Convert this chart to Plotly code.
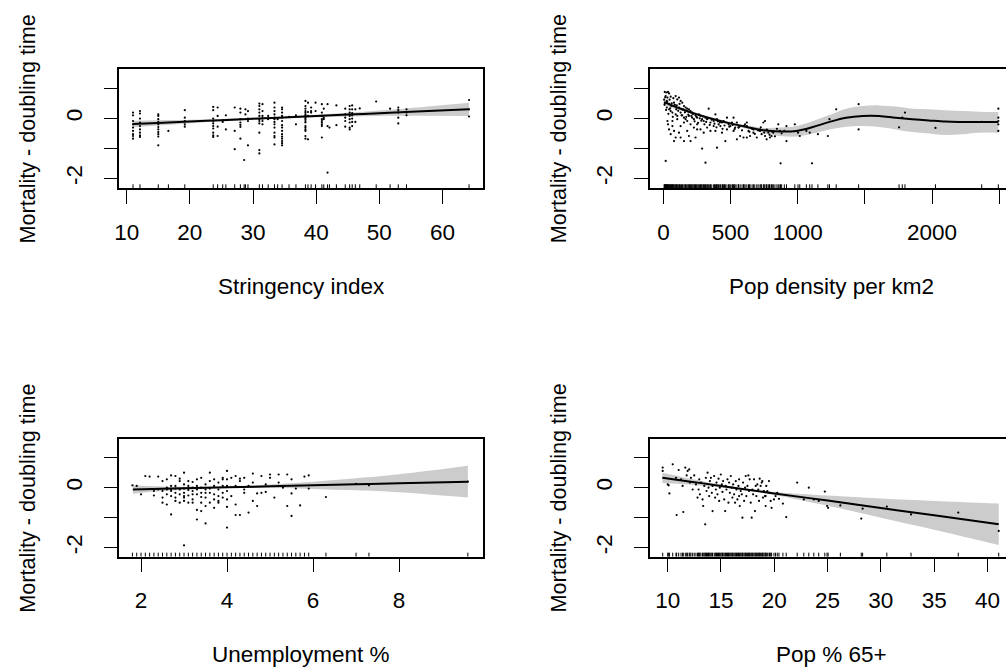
import plotly.graph_objects as go

W, H = 1006, 669
FONT = "Liberation Sans, Arial, Helvetica, sans-serif"
FS = 22.5
FS_YT = 21.6

# ---------------- data ----------------
# Panel 1: Stringency index (points grouped by x value)
str_cols = [11.0, 12.1, 15.0, 16.6, 19.2, 23.7, 24.4, 25.2, 25.7, 27.1, 28.0, 28.6, 28.8, 29.2,
            31.0, 31.5, 32.4, 33.4, 33.9, 34.6, 35.7, 36.8, 38.3, 38.7, 39.2, 39.9, 40.9, 41.2,
            41.8, 42.1, 43.2, 44.6, 45.3, 45.7, 46.2, 46.9, 49.5, 51.7, 53.0, 54.3, 64.2]
str_res = [
    [0.19, 0.10, -0.09, -0.20, -0.31, -0.42, -0.53, -0.59, -0.68],
    [0.24, 0.16, -0.01, -0.14, -0.26, -0.37, -0.48, -0.57, -0.62],
    [0.13, 0.08, -0.03, -0.12, -0.20, -0.29, -0.37, -0.46, -0.53, -0.61, -0.90],
    [-0.42],
    [0.27, 0.02, -0.09, -0.20, -0.28],
    [0.38, 0.27, -0.01, -0.09, -0.17, -0.26, -0.34, -0.48, -0.57, -0.62],
    [0.36, 0.08, -0.28, -0.59],
    [-0.07, -0.12],
    [0.10, -0.37],
    [0.36, -0.42, -1.03],
    [0.32, 0.19, -0.03, -0.14, -0.22, -0.29, -0.68],
    [-1.39],
    [0.30, 0.13],
    [0.24, -0.01, -0.09, -0.90],
    [0.49, 0.41, 0.30, 0.19, 0.08, -0.03, -0.09, -0.17, -0.48, -1.06, -1.17],
    [0.47, 0.24, 0.08, -0.01, -0.09, -0.20],
    [0.08, -0.03],
    [0.52, 0.36, 0.24, 0.13, 0.02, -0.03, -0.12, -0.20, -0.31, -0.48, -0.59, -0.64, -0.87],
    [-0.03],
    [0.36, 0.30, 0.19, 0.08, 0.02, -0.09, -0.23, -0.31, -0.42, -0.53, -0.61, -0.68, -0.76, -0.83, -0.90],
    [0.05],
    [0.10, -0.20],
    [0.58, 0.41, 0.32, 0.24, 0.19, 0.13, 0.08, 0.02, -0.03, -0.09, -0.14, -0.26, -0.31, -0.37, -0.42, -0.59, -0.68],
    [0.52, 0.21, 0.08, -0.70],
    [0.36, 0.24, 0.19],
    [0.52, 0.24],
    [0.47, 0.19, 0.08, -0.03, -0.09, -0.14, -0.20, -0.26, -0.64],
    [0.32, 0.02, -0.03],
    [0.47, -0.26, -1.81],
    [-0.31],
    [0.43, -0.23],
    [0.32, 0.13, 0.02, -0.09, -0.28],
    [0.41, 0.30, 0.19, 0.08, -0.03, -0.14, -0.31, -0.37],
    [0.43, 0.30, 0.17, 0.10, -0.01, -0.12, -0.26],
    [0.30, -0.12],
    [0.33],
    [0.56],
    [0.32],
    [0.36, 0.28, 0.19, 0.02, -0.17],
    [0.30, 0.19, 0.10],
    [0.61, 0.30, 0.06],
]
str_grid = [10.95, 15, 20, 25, 30, 34, 40, 45, 50, 55, 64.2]
str_fit = [-0.19, -0.153, -0.107, -0.061, -0.015, 0.022, 0.077, 0.123, 0.169, 0.215, 0.30]
str_up = [-0.08, -0.063, -0.047, -0.021, 0.015, 0.052, 0.117, 0.183, 0.259, 0.345, 0.52]
str_lo = [-0.30, -0.243, -0.167, -0.101, -0.045, -0.008, 0.037, 0.063, 0.079, 0.085, 0.08]

# Panel 2: Pop density per km2
den_x = [10, 22, 34, 42, 17, 30, 54, 74, 91, 103, 116, 128, 140, 25, 10, 42, 59, 79, 99, 116,
         153, 165, 177, 190, 202, 214, 25, 42, 54, 67, 91, 103, 128, 140, 153, 165, 190, 214, 227, 239,
         251, 264, 276, 288, 300, 313, 325, 337, 350, 374, 387, 399, 411, 424, 436, 448, 473, 485, 498, 510,
         522, 534, 547, 559, 571, 596, 608, 621, 633, 645, 670, 695, 719, 731, 744, 756, 756, 768, 781, 793,
         805, 818, 855, 867, 916, 916, 978, 1002, 1015, 1064, 1089, 1150, 1224, 1236, 1286, 1453, 1453, 1754, 1778, 1798,
         2025, 2369, 2493, 2493, 2493, 2493, 2493, 872, 1106, 17, 313, 288, 399, 30, 34, 42, 54, 67, 79, 91,
         116, 128, 153, 177, 202, 227, 153, 202, 239, 276, 300, 350, 374, 461, 547, 571, 621, 103, 67, 177,
         251, 325, 473, 522, 387, 436, 621, 670, 719, 251, 190, 128, 79,
         5, 8, 13, 20, 28, 37, 46, 50, 62, 70, 85, 95, 110, 120, 135, 145, 160, 170, 185, 195,
         208, 220, 232, 245, 258, 270, 282, 295, 305, 318, 330, 345, 360, 380, 395, 405, 420, 440, 455, 490,
         515, 530, 560, 585, 600, 640, 660, 680, 705, 725, 750, 770, 790, 810, 830, 845, 880, 900]
den_y = [0.88, 0.86, 0.88, 0.83, 0.74, 0.69, 0.72, 0.67, 0.74, 0.63, 0.69, 0.58, 0.52, 0.58, 0.50, 0.47, 0.41, 0.52, 0.43, 0.36,
         0.41, 0.36, 0.32, 0.30, 0.24, 0.19, 0.36, 0.30, 0.24, 0.19, 0.13, 0.08, 0.19, 0.10, 0.02, -0.03, 0.08, 0.02, -0.03, 0.10,
         0.02, 0.13, 0.08, -0.03, -0.09, 0.02, -0.03, 0.32, -0.14, -0.09, 0.13, -0.03, -0.20, -0.26, -0.14, -0.09, 0.02, -0.20, -0.26, -0.14,
         0.02, -0.31, -0.14, -0.31, -0.26, -0.64, -0.20, -0.14, -0.42, -0.59, -0.48, -0.64, -0.42, -0.53, -0.14, -0.09, -0.59, -0.70, -0.48, -0.64,
         -0.59, -0.48, -0.20, -0.42, -0.76, -0.26, -0.20, -0.48, -0.59, -0.42, -0.48, -0.53, -0.59, -0.03, 0.30, 0.47, -0.37, -0.30, 0.02, 0.19,
         -0.32, -0.12, 0.32, 0.02, -0.09, -0.20, -0.42, -1.50, -1.50, -1.42, -1.48, -1.01, -0.98, -0.09, -0.20, -0.37, -0.53, -0.26, -0.42, -0.64,
         -0.48, -0.26, -0.14, -0.42, -0.20, -0.31, -0.76, -0.76, -0.64, -0.37, -0.48, -0.42, -0.26, -0.76, -0.70, -0.59, -0.64, -0.03, -0.09, -0.09,
         -0.20, -0.31, -0.37, -0.42, -0.42, -0.48, -0.26, -0.37, -0.37, -0.37, -0.59, -0.64, -0.76,
         0.62, 0.45, 0.70, 0.28, 0.55, 0.15, 0.62, 0.33, 0.50, 0.05, 0.45, 0.30, 0.25, 0.48, 0.10, 0.30, 0.20, 0.05, 0.12, 0.22,
         0.08, 0.14, -0.10, 0.05, -0.15, 0.00, -0.08, 0.06, -0.20, -0.12, 0.00, -0.22, -0.05, -0.18, -0.30, -0.10, -0.14, -0.35, -0.24, -0.28,
         -0.22, -0.36, -0.30, -0.40, -0.25, -0.45, -0.35, -0.52, -0.40, -0.30, -0.48, -0.38, -0.55, -0.45, -0.60, -0.35, -0.50, -0.42]
den_grid = [5, 128, 251, 374, 497, 620, 744, 867, 990, 1113, 1236, 1360, 1483, 1606, 1729, 1852, 1975, 2099, 2222, 2345, 2493]
den_fit = [0.54, 0.32, 0.13, -0.03, -0.17, -0.29, -0.40, -0.44, -0.42, -0.29, -0.12, 0.02, 0.08, 0.08, 0.02, -0.03, -0.07, -0.11, -0.12, -0.12, -0.12]
den_up = [0.63, 0.38, 0.18, 0.02, -0.12, -0.23, -0.32, -0.31, -0.26, -0.09, 0.11, 0.32, 0.41, 0.43, 0.39, 0.32, 0.30, 0.27, 0.24, 0.22, 0.21]
den_lo = [0.43, 0.26, 0.08, -0.08, -0.22, -0.35, -0.49, -0.59, -0.61, -0.51, -0.37, -0.28, -0.26, -0.29, -0.37, -0.46, -0.51, -0.56, -0.53, -0.48, -0.48]

# Panel 3: Unemployment %
une_cols = [1.8, 1.9, 2.0, 2.1, 2.2, 2.3, 2.4, 2.5, 2.6, 2.7, 2.8, 2.9, 3.0, 3.1, 3.2, 3.3, 3.4, 3.5,
            3.6, 3.7, 3.8, 3.9, 4.0, 4.1, 4.2, 4.3, 4.4, 4.5, 4.6, 4.7, 4.8, 4.9, 5.0, 5.1, 5.2, 5.3,
            5.4, 5.5, 5.6, 5.7, 5.8, 5.9, 6.3, 7.0, 7.3, 9.6]
une_res = [
    [0.08], [0.06], [-0.22], [0.39], [0.37], [-0.11, -0.26], [0.37, -0.06],
    [0.22, -0.11, -0.33, -0.50],
    [0.28, 0.00, -0.06, -0.22, -0.56],
    [0.41, 0.06, -0.06, -0.11, -0.28, -0.89],
    [0.39, 0.06, -0.03, -0.17, -0.33, -0.44],
    [0.30, 0.22, -0.06, -0.22, -0.50],
    [0.50, 0.11, -0.03, -0.17, -0.28, -0.33, -0.44, -1.92],
    [0.22, 0.06, -0.08, -0.26, -0.50],
    [0.19, 0.00, -0.11, -0.22, -0.39, -0.50],
    [0.28, 0.06, -0.06, -0.22, -0.74, -1.06],
    [0.33, 0.00, -0.17, -0.31, -0.50, -0.78],
    [0.11, -0.06, -0.17, -0.33, -0.61, -1.19],
    [0.50, 0.22, -0.03, -0.17, -0.50],
    [0.28, 0.06, -0.22, -0.39, -0.67],
    [0.17, -0.06, -0.28, -0.44, -0.50],
    [0.33, 0.28, 0.06, -0.17, -0.33],
    [0.56, 0.28, 0.06, -0.11, -0.39, -0.64, -1.33],
    [0.33, -0.28],
    [0.39, 0.06, -0.56, -0.91],
    [0.30, 0.22, -0.91],
    [0.33, -0.06, -0.17],
    [0.06, -0.83],
    [0.47, 0.17, -0.44],
    [-0.19, -0.61],
    [0.39, -0.17],
    [0.11, -0.14],
    [0.44, 0.33],
    [-0.33],
    [0.44, 0.17],
    [0.00],
    [0.44, -0.61],
    [0.28, -0.19, -0.94],
    [-0.03],
    [-0.59],
    [0.37],
    [0.41, -0.03],
    [-0.31],
    [0.13],
    [0.08],
    [0.20],
]
une_grid = [1.81, 2.5, 3.5, 4.0, 5.0, 6.0, 7.0, 8.0, 9.6]
une_fit = [-0.06, -0.037, -0.004, 0.013, 0.047, 0.08, 0.113, 0.147, 0.20]
une_up = [0.08, 0.04, 0.03, 0.043, 0.107, 0.20, 0.313, 0.447, 0.73]
une_lo = [-0.20, -0.11, -0.04, -0.017, -0.013, -0.04, -0.087, -0.153, -0.33]

# Panel 4: Pop % 65+
old_x = [9.53, 9.53, 10.47, 10.0, 10.09, 10.16, 10.78, 10.84, 11.03, 11.25, 11.40, 11.46, 11.65, 11.78, 11.87,
         12.02, 12.09, 12.18, 12.34, 12.49, 12.65, 12.80, 12.90, 12.96, 13.02, 13.12, 13.27, 13.33, 13.43, 13.52,
         13.58, 13.64, 13.74, 13.83, 13.89, 13.96, 14.05, 14.14, 14.21, 14.21, 14.36, 14.45, 14.52, 14.58, 14.67,
         14.77, 14.83, 14.89, 14.98, 15.08, 15.14, 15.20, 15.30, 15.39, 15.45, 15.51, 15.61, 15.70, 15.76, 15.83,
         15.92, 16.01, 16.07, 16.14, 16.23, 16.32, 16.39, 16.45, 16.54, 16.64, 16.70, 16.76, 16.85, 16.95, 17.01,
         17.07, 17.17, 17.26, 17.32, 17.38, 17.48, 17.57, 17.63, 17.69, 17.79, 17.88, 17.94, 18.01, 18.10, 18.19,
         18.26, 18.32, 18.41, 18.50, 18.57, 18.63, 18.72, 18.82, 18.88, 18.94, 19.03, 19.13, 19.19, 19.25, 19.35,
         19.50, 19.56, 19.66, 19.75, 19.97, 20.12, 20.28, 20.44, 20.81, 21.12, 22.15, 22.77, 23.24, 23.71, 24.17,
         24.74, 24.95, 25.05, 26.20, 28.16, 28.29, 30.56, 32.83, 37.26, 41.06, 19.19, 16.70]
old_y = [0.67, 0.56, 0.78, 0.11, 0.08, -0.19, 0.33, -0.91, 0.59, 0.28, 0.06, -0.81, 0.67, 0.41, 0.56,
         0.61, 0.17, 0.33, -0.06, 0.41, 0.11, -0.33, -0.06, 0.28, -0.22, 0.17, -0.39, -0.61, 0.06, -1.22,
         0.33, -0.11, 0.50, 0.00, -0.28, 0.22, 0.33, -0.17, 0.06, -0.78, 0.39, -0.33, -0.06, 0.17, -0.22,
         0.30, -0.44, 0.00, 0.44, 0.11, -0.14, 0.22, -0.39, -0.78, 0.06, -0.06, 0.28, -0.50, 0.17, -0.17,
         0.39, 0.00, -0.33, 0.11, -0.22, -0.50, 0.22, -0.06, -0.39, 0.06, 0.28, -0.61, -0.11, -0.22, -1.00,
         0.17, -0.44, 0.00, 0.39, -0.28, 0.06, 0.41, -0.11, 0.28, -0.50, -1.00, -0.06, -0.22, 0.28, -0.78,
         0.06, -0.28, 0.11, -0.06, -0.44, 0.30, 0.06, 0.17, 0.22, -0.33, -0.11, -0.28, -0.61, 0.06, -0.11,
         0.22, -0.17, -0.44, -0.67, -0.39, -0.28, -0.17, -0.37, -0.53, -0.98, 0.17, -0.39, 0.00, -0.39, -0.44,
         -0.13, -0.61, -0.67, -0.59, -1.03, -0.70, -0.63, -0.89, -0.83, -1.44, -0.28, -0.28]
old_grid = [9.5, 12, 15, 17, 20, 25, 30, 35, 41.06]
old_fit = [0.33, 0.21, 0.06, -0.04, -0.19, -0.43, -0.68, -0.92, -1.22]
old_up = [0.50, 0.31, 0.11, -0.01, -0.14, -0.26, -0.36, -0.44, -0.53]
old_lo = [0.16, 0.11, 0.01, -0.07, -0.24, -0.60, -1.00, -1.40, -1.91]

x_titles = ["Stringency index", "Pop density per km2", "Unemployment %", "Pop % 65+"]
y_title = "Mortality - doubling time"
x_tickvals = [[10, 20, 30, 40, 50, 60], [0, 500, 1000, 1500, 2000, 2500], [2, 4, 6, 8],
              [10, 15, 20, 25, 30, 35, 40]]
x_ticktext = [["10", "20", "30", "40", "50", "60"], ["0", "500", "1000", "", "2000", ""],
              ["2", "4", "6", "8"], ["10", "15", "20", "25", "30", "35", "40"]]
y_tickvals = [-2, -1, 0, 1]
y_ticktext = ["-2", "", "0", ""]


def flatten(cols, res):
    xs, ys = [], []
    for c, r in zip(cols, res):
        for v in r:
            xs.append(c)
            ys.append(v)
    return xs, ys


str_x, str_y = flatten(str_cols, str_res)
une_x, une_y = flatten(une_cols, une_res)

panels = [
    dict(px=str_x, py=str_y, g=str_grid, f=str_fit, u=str_up, l=str_lo),
    dict(px=den_x, py=den_y, g=den_grid, f=den_fit, u=den_up, l=den_lo),
    dict(px=une_x, py=une_y, g=une_grid, f=une_fit, u=une_up, l=une_lo),
    dict(px=old_x, py=old_y, g=old_grid, f=old_fit, u=old_up, l=old_lo),
]

# ---------------- layout geometry (pixels) ----------------
box_x = [(115, 480), (648.3, W), (115, 480), (648.3, W)]
box_y = [(69, 188.3), (69, 188.3), (439, 556.7), (439, 556.7)]
x_ranges = [[8.85, 66.35], [-99.3, 2550], [1.498, 9.943], [8.347, 41.74]]
y_ranges = [[-2.333, 1.643], [-2.333, 1.643], [-2.30, 1.623], [-2.30, 1.623]]
box_full_center_x = [297.5, 830.7, 297.5, 830.7]

fig = go.Figure()
RUG_PX = 4

for i, p in enumerate(panels):
    sfx = "" if i == 0 else str(i + 1)
    xa, ya = "x" + sfx, "y" + sfx
    # confidence band
    fig.add_trace(go.Scatter(x=p["g"], y=p["l"], mode="lines", line=dict(width=0, shape="spline"),
                             hoverinfo="skip", showlegend=False, xaxis=xa, yaxis=ya))
    fig.add_trace(go.Scatter(x=p["g"], y=p["u"], mode="lines", line=dict(width=0, shape="spline"),
                             fill="tonexty", fillcolor="#cccccc", hoverinfo="skip",
                             showlegend=False, xaxis=xa, yaxis=ya))
    # fitted smooth
    fig.add_trace(go.Scatter(x=p["g"], y=p["f"], mode="lines",
                             line=dict(color="black", width=2, shape="spline"),
                             showlegend=False, xaxis=xa, yaxis=ya))
    # partial residuals
    fig.add_trace(go.Scatter(x=p["px"], y=p["py"], mode="markers",
                             marker=dict(color="black", size=2.2, line=dict(width=0)),
                             showlegend=False, xaxis=xa, yaxis=ya))
    # rug
    y0 = y_ranges[i][0]
    h = RUG_PX * (y_ranges[i][1] - y_ranges[i][0]) / (box_y[i][1] - box_y[i][0])
    rx, ry = [], []
    for v in sorted(set(p["px"])):
        rx += [v, v, None]
        ry += [y0, y0 + h, None]
    fig.add_trace(go.Scatter(x=rx, y=ry, mode="lines", line=dict(color="black", width=1),
                             hoverinfo="skip", showlegend=False, xaxis=xa, yaxis=ya))

    right_panel = i in (1, 3)
    axis_common = dict(showgrid=False, zeroline=False, showline=True, linecolor="black",
                       linewidth=1.5, ticks="outside", ticklen=14, tickwidth=1.3,
                       tickcolor="black", tickfont=dict(family=FONT, size=FS, color="black"))
    fig.layout["xaxis" + sfx] = dict(
        axis_common,
        domain=[box_x[i][0] / W, box_x[i][1] / W],
        range=x_ranges[i], anchor=ya, mirror=True,
        tickmode="array", tickvals=x_tickvals[i], ticktext=x_ticktext[i],
        ticklabelstandoff=9,
    )
    fig.layout["yaxis" + sfx] = dict(
        axis_common,
        domain=[1 - box_y[i][1] / H, 1 - box_y[i][0] / H],
        range=y_ranges[i], anchor=xa, mirror=not right_panel,
        tickmode="array", tickvals=y_tickvals, ticktext=y_ticktext,
        tickangle=-90, ticklabelstandoff=13,
    )

    # axis titles
    fig.add_annotation(text=x_titles[i], xref="paper", yref="paper",
                       x=box_full_center_x[i] / W, y=1 - (box_y[i][1] + 98) / H,
                       xanchor="center", yanchor="middle", showarrow=False,
                       font=dict(family=FONT, size=FS, color="black"))
    fig.add_annotation(text=y_title, xref="paper", yref="paper",
                       x=(box_x[i][0] - 92) / W, y=1 - (box_y[i][0] + box_y[i][1]) / 2 / H,
                       xanchor="center", yanchor="middle", textangle=-90, showarrow=False,
                       font=dict(family=FONT, size=FS_YT, color="black"))

fig.update_layout(width=W, height=H, margin=dict(l=0, r=0, t=0, b=0),
                  paper_bgcolor="white", plot_bgcolor="white", showlegend=False,
                  font=dict(family=FONT, size=FS, color="black"))

fig.write_html("out.html", config={"displayModeBar": False},
               post_script="document.body.style.margin='0px';document.body.style.overflow='hidden';")
